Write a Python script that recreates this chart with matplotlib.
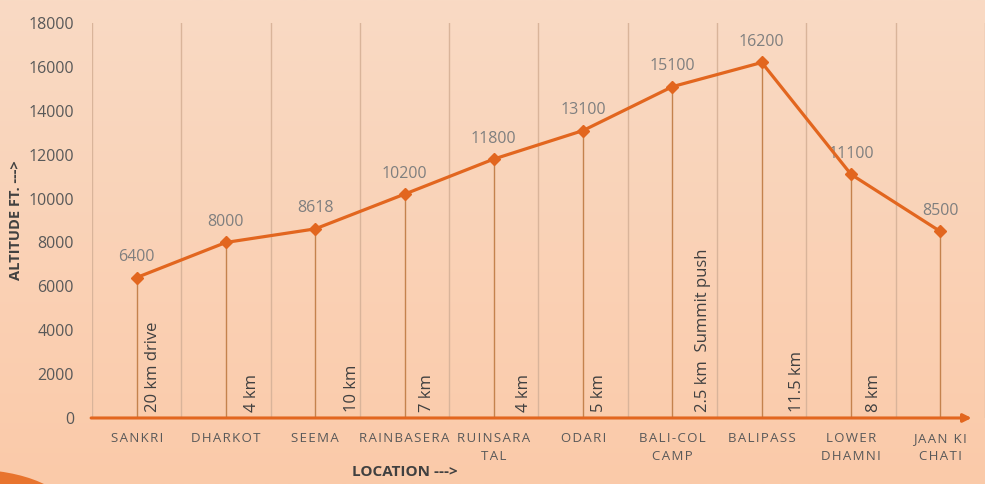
import matplotlib.pyplot as plt
import numpy as np
from matplotlib.patches import Ellipse

plt.rcParams['font.family'] = ['Open Sans', 'DejaVu Sans']

# trek stages and altitude (ft)
locations = ['SANKRI', 'DHARKOT', 'SEEMA', 'RAINBASERA', 'RUINSARA\nTAL', 'ODARI',
             'BALI-COL\nCAMP', 'BALIPASS', 'LOWER\nDHAMNI', 'JAAN KI\nCHATI']
altitude = [6400, 8000, 8618, 10200, 11800, 13100, 15100, 16200, 11100, 8500]
# distance covered on each leg
distances = ['20 km drive', '4 km', '10 km', '7 km', '4 km', '5 km',
             '2.5 km  Summit push', '11.5 km', '8 km']
dist_shift = [0.18, 0.29, 0.41, 0.25, 0.34, 0.18, 0.34, 0.40, 0.26]

orange = '#E2661F'
x = np.arange(len(locations))


def spaced(s):
    # wide letter spacing like the original slide
    return '\n'.join('\u200a'.join(line) for line in s.split('\n'))


fig = plt.figure(figsize=(9.85, 4.84), dpi=100)

# background gradient
bg = fig.add_axes([0, 0, 1, 1], zorder=-10)
grad = np.linspace(0, 1, 256).reshape(-1, 1)
top = np.array([249, 218, 196]) / 255
bot = np.array([251, 202, 169]) / 255
img = top + (bot - top) * grad[:, :, None]
bg.imshow(img, aspect='auto', extent=[0, 1, 0, 1])
bg.add_patch(Ellipse((-0.03, -0.06), 0.2, 0.18, color='#E8742E', lw=0))
bg.set_xlim(0, 1)
bg.set_ylim(0, 1)
bg.axis('off')

ax = fig.add_axes([0.0934, 0.1364, 0.9066, 0.8161])
ax.patch.set_alpha(0)

for b in np.arange(-0.5, 10, 1):
    ax.plot([b, b], [0, 18000], color='#D9B49A', lw=1, zorder=1)

for xi, yi in zip(x, altitude):
    ax.plot([xi, xi], [0, yi], color='#C4824D', lw=1, zorder=2)

ax.plot(x, altitude, color=orange, lw=2.3, marker='D', markersize=6.5, zorder=4)

for xi, yi in zip(x, altitude):
    ax.annotate(str(yi), (xi, yi), xytext=(0, 9), textcoords='offset points',
                ha='center', va='bottom', fontsize=11.5, color='#7F7F7F')

for i, d in enumerate(distances):
    ax.text(x[i] + dist_shift[i], 250, d, rotation=90, ha='center', va='bottom',
            fontsize=12, color='#404040', zorder=3)

ax.set_xlim(-0.5, 9.5)
ax.set_ylim(0, 18000)
ax.set_yticks(np.arange(0, 18001, 2000))
ax.set_xticks(x)
ax.set_xticklabels([spaced(l) for l in locations], fontsize=9.5, color='#595959',
                   linespacing=1.5)
ax.tick_params(axis='y', length=0, pad=13, labelsize=11.5, labelcolor='#595959')
ax.tick_params(axis='x', length=0, pad=10)
for s in ax.spines.values():
    s.set_visible(False)

# x axis arrow
ax.annotate('', xy=(0.985, 0), xytext=(-0.001, 0), xycoords='axes fraction',
            arrowprops=dict(arrowstyle='-|>', color=orange, lw=2.2,
                            mutation_scale=12, shrinkA=0, shrinkB=0), zorder=5)

ax.set_xlabel('LOCATION --->', fontsize=11, fontweight='bold', color='#404040')
ax.xaxis.set_label_coords(0.35, -0.118)
ax.set_ylabel('ALTITUDE FT. --->', fontsize=10.5, fontweight='bold', color='#404040')
ax.yaxis.set_label_coords(-0.077, 0.5)

plt.savefig('out.png', dpi=100)
